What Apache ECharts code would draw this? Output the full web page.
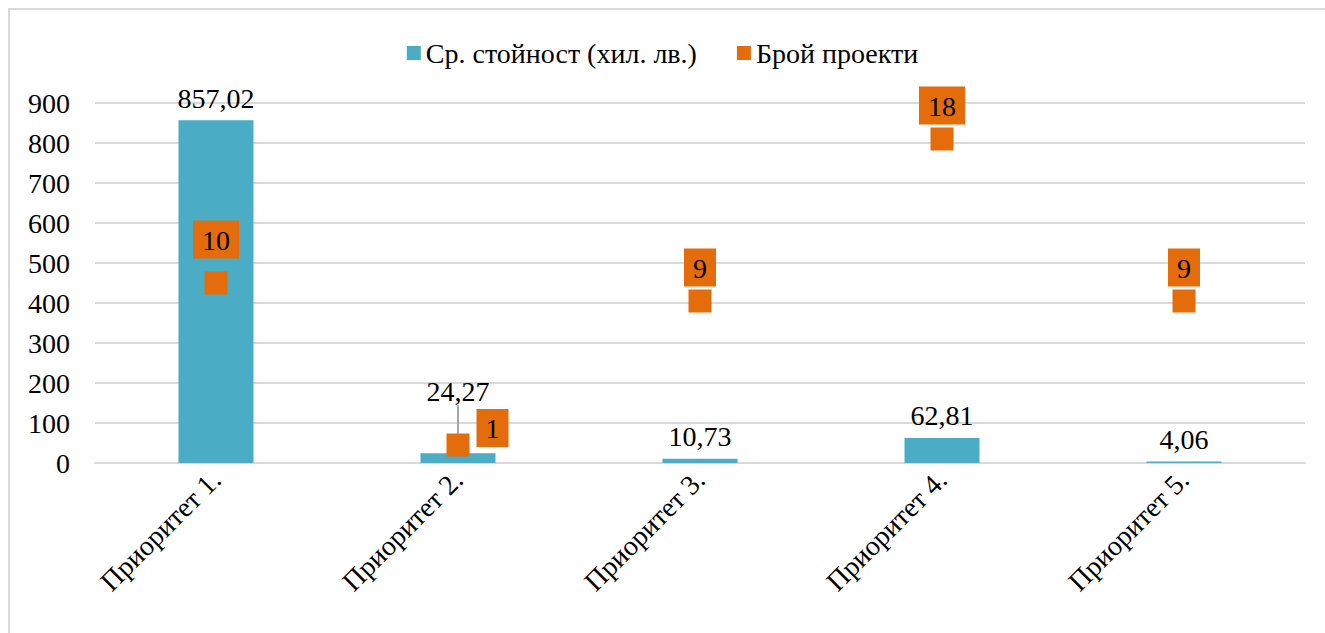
<!DOCTYPE html>
<html>
<head>
<meta charset="utf-8">
<script src="https://cdn.jsdelivr.net/npm/echarts@6/dist/echarts.min.js"></script>
<style>
  html, body { margin: 0; padding: 0; background: #fff; }
  #chart { width: 1325px; height: 633px; font-family: "Liberation Serif", serif; }
</style>
</head>
<body>
<div id="chart"></div>
<script>
// данни
const categories = ['Приоритет 1.', 'Приоритет 2.', 'Приоритет 3.', 'Приоритет 4.', 'Приоритет 5.'];
const avgValue = [857.02, 24.27, 10.73, 62.81, 4.06];
const projectCount = [10, 1, 9, 18, 9];

const FONT = '"Liberation Serif", serif';
const FS = 28;
const comma = v => String(v).replace('.', ',');

// svg рендер - шрифтът се избира от браузъра
let chart = echarts.init(document.getElementById('chart'), null, { renderer: 'svg' });
chart.setOption({
  animation: false,
  textStyle: { fontFamily: FONT },
  graphic: [{
    type: 'rect',
    shape: { x: 9, y: 9, width: 1330, height: 640 },
    style: { fill: 'none', stroke: '#d9d9d9', lineWidth: 2 }
  }],
  legend: {
    top: 34,
    left: 'center',
    itemWidth: 14,
    itemHeight: 14,
    itemGap: 40,
    itemStyle: { borderWidth: 0 },
    textStyle: { fontFamily: FONT, fontSize: FS, color: '#000' },
    data: [
      { name: 'Ср. стойност (хил. лв.)', icon: 'rect' },
      { name: 'Брой проекти', icon: 'rect' }
    ]
  },
  grid: { left: 95, right: 20, top: 103, bottom: 170 },
  xAxis: {
    type: 'category',
    data: categories,
    axisTick: { show: false },
    axisLine: { lineStyle: { color: '#d9d9d9', width: 2 } },
    axisLabel: { rotate: 45, fontFamily: FONT, fontSize: FS, color: '#000', margin: 12 }
  },
  yAxis: [{
    type: 'value',
    min: 0, max: 900, interval: 100,
    axisLabel: { fontFamily: FONT, fontSize: FS, color: '#000', margin: 25 },
    splitLine: { lineStyle: { color: '#d9d9d9', width: 2 } }
  }, {
    type: 'value',
    min: 0, max: 20,
    show: false,
    splitLine: { show: false }
  }],
  series: [{
    name: 'Ср. стойност (хил. лв.)',
    type: 'bar',
    barWidth: 75,
    data: avgValue.map((v, i) => i === 1 ? {
      value: v,
      labelLine: { show: true, lineStyle: { color: '#a6a6a6', width: 2 } }
    } : { value: v, labelLine: { show: false } }),
    itemStyle: { color: '#4bacc6' },
    label: {
      show: true,
      position: 'top',
      distance: 8,
      fontFamily: FONT, fontSize: FS, color: '#000',
      formatter: p => comma(p.value)
    },
    labelLayout: p => p.dataIndex === 1 ? { dy: -40 } : {}
  }, {
    name: 'Брой проекти',
    type: 'scatter',
    yAxisIndex: 1,
    symbol: 'rect',
    symbolSize: 23,
    data: projectCount.map((v, i) => {
      if (i === 1) return { value: v, label: { position: 'right', distance: 7, offset: [0, -17] } };
      if (i === 0) return { value: v, label: { distance: 13 } };
      return v;
    }),
    itemStyle: { color: '#e46c0a', opacity: 1 },
    label: {
      show: true,
      position: 'top',
      distance: 3,
      backgroundColor: '#e46c0a',
      padding: [6, 9, 4, 9],
      fontFamily: FONT, fontSize: FS, color: '#000'
    }
  }]
});
</script>
</body>
</html>
